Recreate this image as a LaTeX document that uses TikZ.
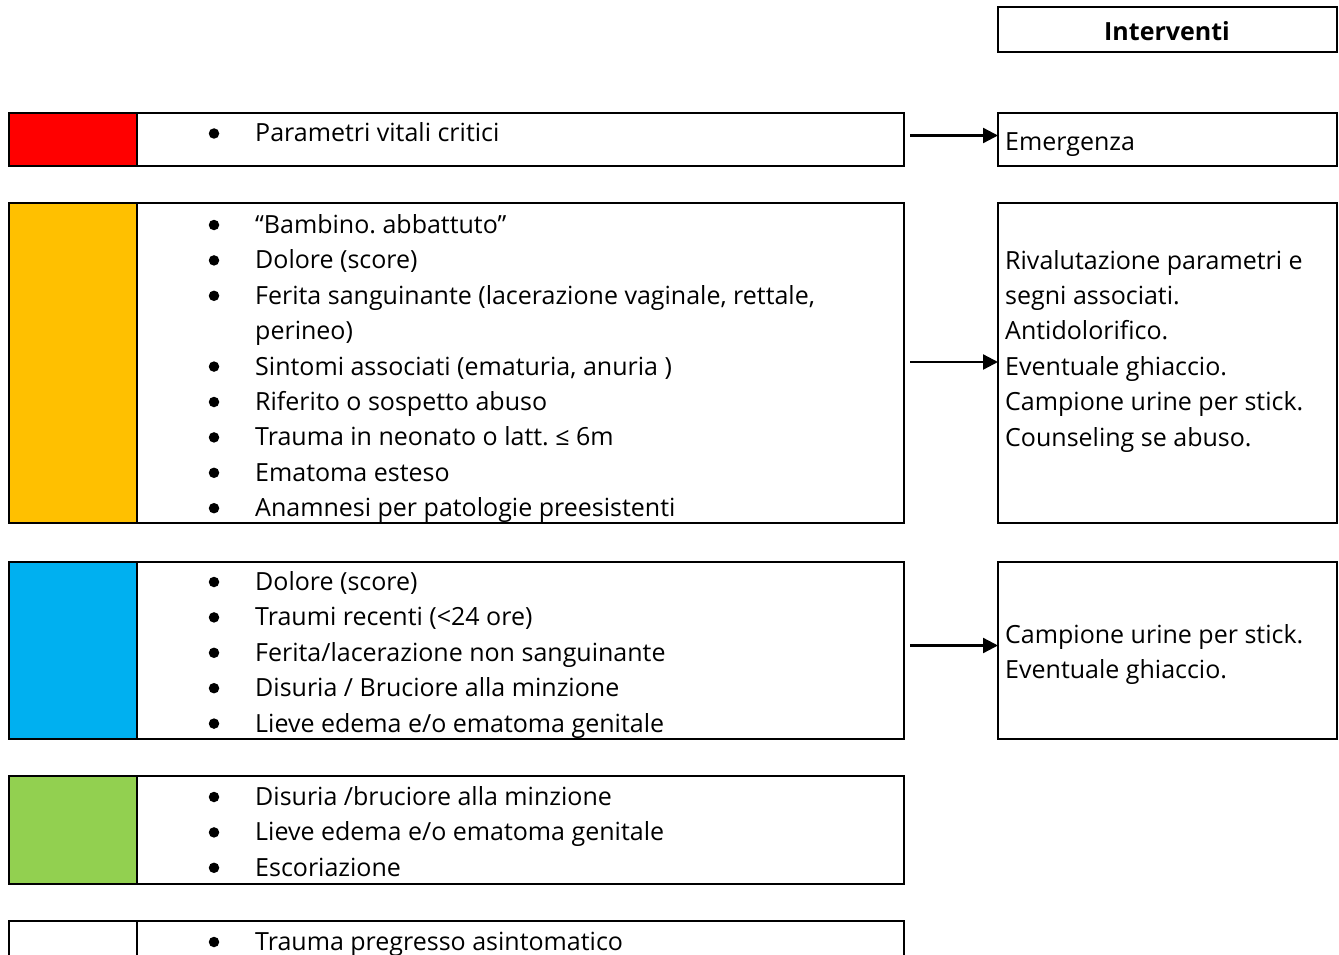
\documentclass[tikz,border=0pt]{standalone}
\usepackage{fontspec}
\setmainfont{Open Sans}
\usetikzlibrary{arrows.meta}
\definecolor{codered}{HTML}{FF0000}
\definecolor{codeorange}{HTML}{FFC000}
\definecolor{codeblue}{HTML}{00B0F0}
\definecolor{codegreen}{HTML}{92D050}
\frenchspacing
\begin{document}
\begin{tikzpicture}[x=1pt,y=-1pt,
  frame/.style={draw, line width=2.3pt, rectangle, inner sep=0pt, outer sep=0pt, anchor=north west},
  item/.style={anchor=base west, inner sep=0pt, font=\fontsize{25}{29}\selectfont},
  dot/.style={circle, fill, inner sep=0pt, minimum size=10.5pt},
  link/.style={line width=2.3pt, -{Triangle[length=15pt,width=15pt]}, shorten <=6pt}]
\useasboundingbox (0,0) rectangle (1339,955);
\fill[white] (0,0) rectangle (1339,955);

% triage rows: outer frame and colour cell
\node[frame, minimum width=895pt, minimum height=53pt]  (r1) at (9,113) {};
\node[frame, fill=codered, minimum width=128pt, minimum height=53pt] (c1) at (9,113) {};
\node[frame, minimum width=895pt, minimum height=320pt] (r2) at (9,203) {};
\node[frame, fill=codeorange, minimum width=128pt, minimum height=320pt] (c2) at (9,203) {};
\node[frame, minimum width=895pt, minimum height=177pt] (r3) at (9,562) {};
\node[frame, fill=codeblue, minimum width=128pt, minimum height=177pt] (c3) at (9,562) {};
\node[frame, minimum width=895pt, minimum height=108pt] (r4) at (9,776) {};
\node[frame, fill=codegreen, minimum width=128pt, minimum height=108pt] (c4) at (9,776) {};
\node[frame, minimum width=895pt, minimum height=80pt]  (r5) at (9,921) {};
\node[frame, minimum width=128pt, minimum height=80pt]  (c5) at (9,921) {};

% interventions column
\node[frame, minimum width=339pt, minimum height=45pt]  (hdr) at (998,7) {};
\node[anchor=base, inner sep=0pt, font=\fontsize{25}{29}\selectfont\bfseries] (hdrt) at (1167,41) {Interventi};
\node[frame, minimum width=339pt, minimum height=53pt]  (e1) at (998,113) {};
\node[frame, minimum width=339pt, minimum height=320pt] (e2) at (998,203) {};
\node[frame, minimum width=339pt, minimum height=177pt] (e3) at (998,562) {};

% bulleted criteria
\newcommand\bulletlist[3]{%
  \foreach \t [count=\i] in {#3} {
    \node[dot] (#1d\i) at (214,{#2+(\i-1)*35.4}) {};
    \node[item] (#1t\i) at (255,{#2+(\i-1)*35.4+8.5}) {\t};
  }}
\bulletlist{a}{133.5}{Parametri vitali critici}
\bulletlist{b}{225}{“Bambino. abbattuto”, Dolore (score),
  {Ferita sanguinante (lacerazione vaginale, rettale,}}
\node[item] (bt3b) at (255,{331+8.5}) {perineo)};
\bulletlist{c}{366.6}{{Sintomi associati (ematuria, anuria )}, Riferito o sospetto abuso,
  Trauma in neonato o latt. ≤ 6m, Ematoma esteso, Anamnesi per patologie preesistenti}
\bulletlist{d}{582}{Dolore (score), Traumi recenti (<24 ore), Ferita/lacerazione non sanguinante,
  Disuria / Bruciore alla minzione, Lieve edema e/o ematoma genitale}
\bulletlist{e}{797}{Disuria /bruciore alla minzione, Lieve edema e/o ematoma genitale, Escoriazione}
\bulletlist{f}{942}{Trauma pregresso asintomatico}

% intervention texts
\node[item] (x1) at (1005,{142.5+8.5}) {Emergenza};
\foreach \t [count=\i] in {Rivalutazione parametri e, segni associati., Antidolorifico.,
  Eventuale ghiaccio., Campione urine per stick., Counseling se abuso.}
  \node[item] (y\i) at (1005,{260.5+(\i-1)*35.4+8.5}) {\t};
\foreach \t [count=\i] in {Campione urine per stick., Eventuale ghiaccio.}
  \node[item] (z\i) at (1005,{634.5+(\i-1)*35.4+8.5}) {\t};

% connectors
\draw[link] ([yshift=4pt]r1.east) -- ([yshift=4pt]e1.west);
\draw[link] ([yshift=1pt]r2.east) -- ([yshift=1pt]e2.west);
\draw[link] ([yshift=5pt]r3.east) -- ([yshift=5pt]e3.west);
\end{tikzpicture}
\end{document}
